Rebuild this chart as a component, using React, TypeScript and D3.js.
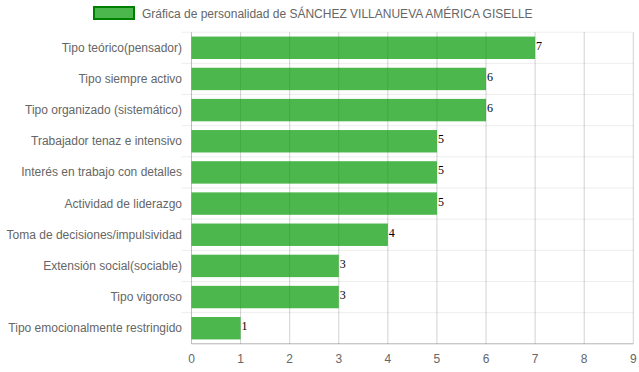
import React from "react";
import * as d3 from "d3";

const categories = [
  "Tipo teórico(pensador)",
  "Tipo siempre activo",
  "Tipo organizado (sistemático)",
  "Trabajador tenaz e intensivo",
  "Interés en trabajo con detalles",
  "Actividad de liderazgo",
  "Toma de decisiones/impulsividad",
  "Extensión social(sociable)",
  "Tipo vigoroso",
  "Tipo emocionalmente restringido",
];
const values = [7, 6, 6, 5, 5, 5, 4, 3, 3, 1];
const xTicks = [0, 1, 2, 3, 4, 5, 6, 7, 8, 9];
const legendLabel = "Gráfica de personalidad de SÁNCHEZ VILLANUEVA AMÉRICA GISELLE";

export default function App() {
  const W = 639, H = 372;
  const left = 191.5, right = 633.3, top = 32.2, bottom = 343.8;
  const x = d3.scaleLinear().domain([0, 9]).range([left, right]);
  const y = d3.scaleBand().domain(categories).range([top, bottom]).paddingInner(0).paddingOuter(0);
  const bw = y.bandwidth();
  const barH = bw * 0.72;
  const font = "Arial, 'Liberation Sans', sans-serif";
  return (
    <svg width={W} height={H} style={{ position: "absolute", left: 0, top: 0 }}>
      {/* legend */}
      <rect x={94} y={7} width={40} height={12} fill="rgba(0,153,0,0.7)" stroke="#008000" strokeWidth={2} />
      <text x={142} y={18} fontFamily={font} fontSize={12} fill="#666">{legendLabel}</text>
      {/* horizontal grid lines */}
      {categories.map((c, i) => (
        <line key={"h" + i} x1={left - 10} x2={right} y1={y(c)!} y2={y(c)!} stroke="rgba(0,0,0,0.07)" strokeWidth={1} />
      ))}
      {/* vertical grid lines */}
      {xTicks.map((t) => (
        <line key={"v" + t} x1={x(t)} x2={x(t)} y1={top} y2={bottom} stroke={t === 0 ? "rgba(0,0,0,0.25)" : "rgba(0,0,0,0.18)"} strokeWidth={1} />
      ))}
      <line x1={left} x2={right} y1={bottom} y2={bottom} stroke="rgba(0,0,0,0.3)" strokeWidth={1} />
      {/* bars */}
      {categories.map((c, i) => (
        <rect key={"b" + i} x={x(0)} y={y(c)! + (bw - barH) / 2} width={x(values[i]) - x(0)} height={barH} fill="rgba(0,153,0,0.7)" />
      ))}
      {/* value labels */}
      {categories.map((c, i) => (
        <text key={"l" + i} x={x(values[i]) + 1} y={y(c)! + bw / 2 + 2} fontFamily="'Liberation Serif', 'Times New Roman', serif" fontSize={12} fill="#000">{values[i]}</text>
      ))}
      {/* y labels */}
      {categories.map((c, i) => (
        <text key={"y" + i} x={182} y={y(c)! + bw / 2 + 4} textAnchor="end" fontFamily={font} fontSize={12} fill="#666">{c}</text>
      ))}
      {/* x tick labels */}
      {xTicks.map((t) => (
        <text key={"x" + t} x={x(t)} y={363} textAnchor="middle" fontFamily={font} fontSize={12} fill="#666">{t}</text>
      ))}
    </svg>
  );
}
